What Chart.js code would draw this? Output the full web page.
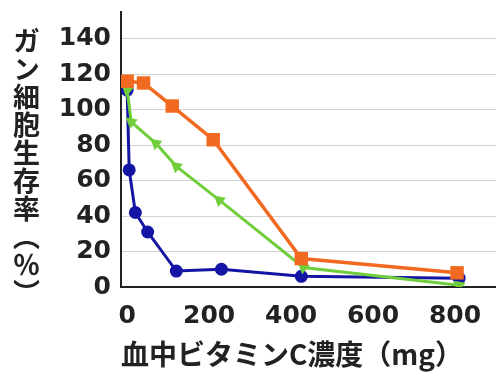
<!DOCTYPE html>
<html lang="ja">
<head>
<meta charset="utf-8">
<script src="https://cdn.jsdelivr.net/npm/chart.js@4.4.0/dist/chart.umd.min.js"></script>
<style>
    html, body { margin: 0; padding: 0; background: #fff; }
    #wrap { position: relative; width: 496px; height: 372px; }
    #yTitle {
        position: absolute; left: 11px; top: 27px;
        writing-mode: vertical-rl; text-orientation: mixed;
        font: bold 27px "Noto Sans CJK JP", sans-serif;
        line-height: 30px; letter-spacing: 1px; color: #222;
    }
</style>
</head>
<body>
<div id="wrap">
    <canvas id="chart" width="496" height="372"></canvas>
    <div id="yTitle">ガン細胞生存率（％）</div>
</div>
<script>
// values (x = ビタミンC濃度, y = 生存率 %)
const blueX = [0, 5, 20, 50, 120, 230, 425, 810];
const blueY = [111, 66, 42, 31, 9, 10, 6, 5];
const orangeX = [0, 40, 110, 210, 425, 805];
const orangeY = [116, 115, 102, 83, 16, 8];
const greenX = [0, 10, 70, 120, 225, 430, 810];
const greenY = [111, 93, 81, 68, 49, 11, 1];

const xTicks = [0, 200, 400, 600, 800];
const yTicks = [0, 20, 40, 60, 80, 100, 120, 140];

const xTitle = '血中ビタミンC濃度（mg）';

const toPoints = (xs, ys) => xs.map((x, i) => ({ x: x, y: ys[i] }));

function makeSet(xs, ys, color, style, radius, width, rotation) {
    return {
        data: toPoints(xs, ys),
        borderColor: color,
        backgroundColor: color,
        borderWidth: width,
        pointStyle: style,
        pointRadius: radius,
        pointRotation: rotation || 0,
        pointBorderWidth: 0,
        tension: 0
    };
}

// keep the plot box where the picture has it, no extra room for edge labels
function noPadding(scale) {
    scale.paddingLeft = 0;
    scale.paddingRight = 0;
    scale.paddingTop = 0;
    scale.paddingBottom = 0;
}

const tickFont = { family: 'DejaVu Sans', size: 25, weight: 'bold' };

new Chart(document.getElementById('chart'), {
    type: 'line',
    data: {
        datasets: [
            makeSet(orangeX, orangeY, '#f26a21', 'rect', 9.5, 3.5),
            makeSet(greenX, greenY, '#6fce3a', 'triangle', 7, 3, -50),
            makeSet(blueX, blueY, '#1515a5', 'circle', 6.5, 3)
        ]
    },
    options: {
        responsive: false,
        animation: false,
        layout: { autoPadding: false, padding: { top: 12, left: 0, right: 0, bottom: 0 } },
        plugins: { legend: { display: false }, tooltip: { enabled: false } },
        scales: {
            x: {
                type: 'linear',
                min: -15,
                max: 900,
                afterBuildTicks: (scale) => { scale.ticks = xTicks.map(v => ({ value: v })); },
                afterFit: (scale) => { scale.height = 85; noPadding(scale); },
                grid: { display: false, drawTicks: false },
                border: { display: true, color: '#222', width: 2 },
                ticks: { color: '#222', font: tickFont, padding: 14, maxRotation: 0, autoSkip: false },
                title: {
                    display: true,
                    text: xTitle,
                    align: 'start',
                    color: '#222',
                    font: { family: 'Noto Sans CJK JP', size: 28, weight: 'bold' },
                    padding: { top: 0, bottom: 1 }
                }
            },
            y: {
                type: 'linear',
                min: 0,
                max: 155,
                afterBuildTicks: (scale) => { scale.ticks = yTicks.map(v => ({ value: v })); },
                afterFit: (scale) => { scale.width = 121; noPadding(scale); },
                grid: { color: '#d2d2d2', lineWidth: 1, drawTicks: false },
                border: { display: true, color: '#222', width: 2 },
                ticks: { color: '#222', font: tickFont, padding: 10 }
            }
        }
    }
});
</script>
</body>
</html>
